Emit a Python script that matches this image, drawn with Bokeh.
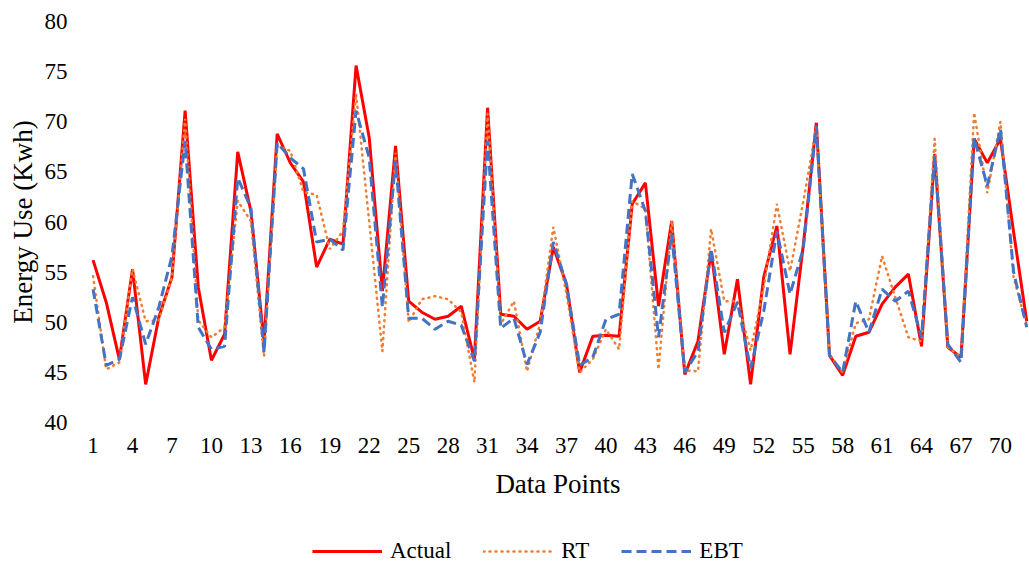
from bokeh.plotting import figure
from bokeh.models import FixedTicker, Legend, LegendItem
from bokeh.layouts import column
from bokeh.embed import file_html
from bokeh.resources import INLINE

points = list(range(1, 73))

actual = [56.2, 52.0, 46.3, 55.3, 43.8, 50.5, 54.5, 71.1, 53.5, 46.2,
          48.8, 67.0, 61.1, 48.0, 68.8, 65.9, 64.0, 55.5, 58.3, 57.8,
          75.6, 68.4, 53.1, 67.6, 52.1, 51.0, 50.3, 50.6, 51.6, 46.3,
          71.4, 50.8, 50.6, 49.3, 50.1, 57.5, 53.8, 45.0, 48.6, 48.7,
          48.6, 61.8, 63.9, 51.6, 60.1, 44.8, 48.1, 57.1, 46.8, 54.3,
          43.8, 54.5, 59.6, 46.8, 57.6, 69.9, 46.7, 44.7, 48.6, 49.0,
          51.8, 53.5, 54.8, 47.6, 66.8, 47.5, 46.5, 68.3, 65.9, 68.3,
          59.0, 50.1]

rt = [54.6, 45.3, 46.0, 55.3, 50.1, 50.2, 54.5, 70.3, 50.2, 48.5,
      49.5, 62.1, 60.1, 46.6, 67.6, 67.1, 63.0, 62.7, 57.3, 59.1,
      72.8, 60.0, 47.1, 66.9, 50.0, 52.3, 52.6, 52.3, 51.0, 44.0,
      70.8, 49.8, 52.1, 45.1, 49.9, 59.5, 52.8, 45.0, 46.3, 49.3,
      47.3, 62.1, 61.3, 45.3, 60.1, 45.2, 45.1, 59.3, 52.1, 52.1,
      47.2, 53.5, 61.8, 55.1, 62.0, 69.4, 46.8, 45.0, 49.9, 50.3,
      56.6, 52.5, 48.5, 48.1, 68.3, 47.5, 46.5, 70.9, 62.9, 70.0,
      54.5, 49.7]

ebt = [53.3, 45.7, 46.3, 52.5, 47.8, 51.5, 56.6, 68.1, 49.5, 47.3,
       47.6, 64.4, 61.4, 47.0, 67.9, 66.4, 65.3, 58.0, 58.3, 57.2,
       71.1, 66.4, 51.5, 66.1, 50.4, 50.4, 49.3, 50.1, 49.7, 46.1,
       68.1, 49.4, 50.4, 45.8, 49.0, 58.0, 53.8, 45.7, 46.5, 50.3,
       50.8, 64.8, 61.1, 48.5, 58.8, 45.0, 47.1, 57.3, 49.0, 52.0,
       45.4, 51.1, 59.1, 52.8, 57.3, 69.6, 46.7, 45.0, 52.1, 49.0,
       53.3, 52.1, 53.1, 48.5, 66.6, 47.8, 46.0, 68.4, 63.6, 69.3,
       55.0, 49.5]

series_names = ["Actual", "RT", "EBT"]
x_ticks = list(range(1, 73, 3))
y_ticks = [40, 45, 50, 55, 60, 65, 70, 75, 80]

FONT = "Liberation Serif"
COLORS = ["#FF0000", "#ED7D31", "#4472C4"]
WIDTHS = [3, 2.5, 3]
DASHES = ["solid", "1 5", "10 5"]
CAPS = ["butt", "round", "butt"]

p = figure(width=1029, height=530, output_backend="svg", toolbar_location=None,
           x_range=(0.5, 72.21), y_range=(40, 80),
           min_border_left=86, min_border_right=0, min_border_top=21,
           min_border_bottom=108)
p.outline_line_color = None
p.grid.visible = False

for ax in (p.xaxis[0], p.yaxis[0]):
    ax.axis_line_color = None
    ax.major_tick_line_color = None
    ax.minor_tick_line_color = None
    ax.major_tick_out = 0
    ax.major_tick_in = 0
    ax.minor_tick_out = 0
    ax.minor_tick_in = 0
    ax.major_label_text_font = FONT
    ax.major_label_text_font_size = "23px"
    ax.major_label_text_color = "#000000"
    ax.axis_label_text_font = FONT
    ax.axis_label_text_font_size = "27px"
    ax.axis_label_text_font_style = "normal"
    ax.axis_label_text_color = "#000000"

p.xaxis.ticker = FixedTicker(ticks=x_ticks)
p.yaxis.ticker = FixedTicker(ticks=y_ticks)
p.xaxis.axis_label = "Data Points"
p.yaxis.axis_label = "Energy Use (Kwh)"
p.yaxis.major_label_standoff = 19
p.yaxis.axis_label_standoff = 4
p.xaxis.major_label_standoff = 15
p.xaxis.axis_label_standoff = 13

series = [actual, rt, ebt]
for vals, c, w, d, cap in zip(series, COLORS, WIDTHS, DASHES, CAPS):
    p.line(points, vals, line_color=c, line_width=w, line_dash=d, line_cap=cap)

# legend strip below the chart (its lines lie outside its own view)
lg = figure(width=1029, height=38, output_backend="svg", toolbar_location=None,
            x_range=(200, 201), y_range=(0, 1), min_border=0,
            x_axis_location=None, y_axis_location=None)
lg.outline_line_color = None
lg.grid.visible = False
items = []
for name, vals, c, w, d, cap in zip(series_names, series, COLORS, WIDTHS, DASHES, CAPS):
    r = lg.line(points, vals, line_color=c, line_width=w, line_dash=d, line_cap=cap)
    items.append(LegendItem(label=name, renderers=[r]))

legend = Legend(items=items, orientation="horizontal", location=(226, 4),
                glyph_width=70, glyph_height=20, label_standoff=8,
                spacing=32, padding=0, margin=0,
                border_line_color=None, background_fill_alpha=0,
                label_text_font=FONT, label_text_font_size="23px",
                label_text_color="#000000")
lg.add_layout(legend, "center")

open("out.html", "w").write(file_html(column(p, lg, spacing=0), INLINE))
